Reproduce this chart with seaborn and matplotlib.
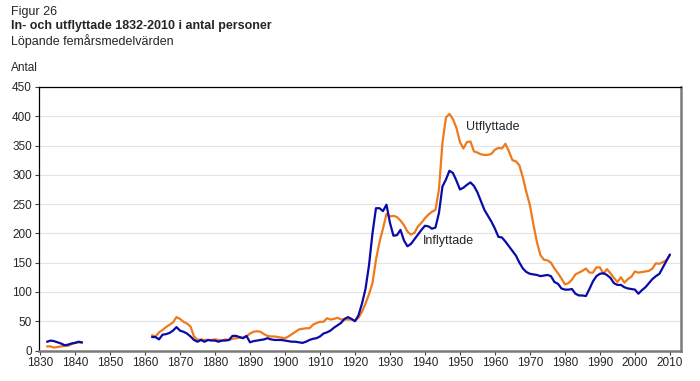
import numpy as np
import pandas as pd
import matplotlib
matplotlib.use("Agg")
import matplotlib.pyplot as plt
import seaborn as sns

# Löpande femårsmedelvärden, antal personer
ar_tidig = list(range(1832, 1843))
in_tidig = [15, 17, 16, 14, 12, 9, 10, 12, 13, 15, 14]
ut_tidig = [7, 7, 5, 6, 7, 8, 8, 11, 13, 14, 13]

ar_sen = list(range(1862, 2011))
in_sen = [23, 23, 19, 27, 28, 30, 34, 40, 34, 32,      # 1862-1871
          29, 24, 18, 15, 18, 15, 18, 17, 17, 15,      # 1872-1881
          17, 17, 18, 25, 25, 23, 21, 25, 14, 16,      # 1882-1891
          17, 18, 19, 21, 19, 18, 18, 18, 17, 16,      # 1892-1901
          15, 15, 14, 13, 15, 18, 20, 21, 24, 29,      # 1902-1911
          31, 34, 39, 43, 47, 54, 57, 54, 50, 60,      # 1912-1921
          80, 105, 145, 200, 243, 243, 238, 249, 218, 196,   # 1922-1931
          197, 206, 188, 178, 182, 190, 198, 206, 213, 212,  # 1932-1941
          208, 210, 235, 280, 292, 307, 303, 290, 275, 278,  # 1942-1951
          283, 287, 281, 270, 255, 240, 230, 220, 208, 194,  # 1952-1961
          193, 186, 178, 170, 162, 150, 140, 134, 131, 130,  # 1962-1971
          129, 127, 128, 129, 127, 117, 114, 106, 104, 104,  # 1972-1981
          105, 97, 94, 94, 93, 105, 118, 127, 131, 132,      # 1982-1991
          129, 124, 115, 112, 112, 108, 106, 105, 104, 97,   # 1992-2001
          103, 108, 115, 122, 127, 131, 142, 153, 164]       # 2002-2010
ut_sen = [26, 24, 31, 35, 40, 44, 48, 57, 54, 49,      # 1862-1871
          46, 41, 24, 18, 19, 18, 18, 18, 19, 18,      # 1872-1881
          17, 19, 18, 20, 21, 22, 22, 24, 29, 32,      # 1882-1891
          33, 32, 28, 25, 24, 24, 23, 22, 21, 24,      # 1892-1901
          28, 32, 36, 37, 38, 38, 44, 47, 49, 49,      # 1902-1911
          55, 53, 54, 56, 53, 53, 53, 53, 51, 56,      # 1912-1921
          66, 80, 96, 115, 155, 185, 208, 233, 229, 230,     # 1922-1931
          228, 222, 214, 203, 198, 201, 212, 218, 226, 232,  # 1932-1941
          237, 240, 275, 355, 398, 404, 395, 380, 356, 345,  # 1942-1951
          356, 357, 340, 338, 335, 334, 334, 336, 343, 346,  # 1952-1961
          345, 353, 340, 325, 323, 316, 295, 270, 248, 215,  # 1962-1971
          185, 163, 155, 154, 150, 140, 132, 123, 113, 115,  # 1972-1981
          121, 130, 133, 136, 140, 133, 133, 142, 142, 131,  # 1982-1991
          139, 132, 124, 117, 125, 116, 122, 126, 135, 133,  # 1992-2001
          134, 135, 136, 140, 149, 148, 151, 154, 163]       # 2002-2010

x_ticks = list(range(1830, 2011, 10))
y_ticks = list(range(0, 451, 50))

BLA = "#0A0AA8"
ORANGE = "#EE7A1C"

delar = []
for namn, ar, inf, utf in [("tidig", ar_tidig, in_tidig, ut_tidig),
                           ("sen", ar_sen, in_sen, ut_sen)]:
    d = pd.DataFrame({"ar": ar, "Inflyttade": inf, "Utflyttade": utf})
    d["del"] = namn
    delar.append(d)
data = pd.concat(delar, ignore_index=True)
lang = data.melt(id_vars=["ar", "del"], var_name="serie", value_name="antal")

sns.set_style("white")
plt.rcParams["font.family"] = ["Liberation Sans", "DejaVu Sans"]

fig = plt.figure(figsize=(7, 3.81), dpi=100)
ax = fig.add_axes([0.0557, 0.080, 0.9173, 0.6917])

sns.lineplot(data=lang, x="ar", y="antal", hue="serie", units="del",
             estimator=None, palette={"Inflyttade": BLA, "Utflyttade": ORANGE},
             hue_order=["Utflyttade", "Inflyttade"],
             linewidth=1.6, legend=False, ax=ax)

ax.set_xlim(1829.7, 2013.2)
ax.set_ylim(0, 450)
ax.set_xticks(x_ticks)
ax.set_yticks(y_ticks)
ax.set_xlabel("")
ax.set_ylabel("")
ax.grid(axis="y", color="#e3e3e3", linewidth=0.8)
ax.set_axisbelow(True)
ax.tick_params(axis="both", labelsize=8.5, length=3, width=0.8,
               color="#404040", pad=2, direction="out")
ax.tick_params(axis="x", bottom=True)
ax.tick_params(axis="y", left=True)
for s in ["left", "top"]:
    ax.spines[s].set_color("black")
    ax.spines[s].set_linewidth(0.9)
for s in ["right", "bottom"]:
    ax.spines[s].set_color("#7a7a7a")
    ax.spines[s].set_linewidth(1.8)

ax.text(1951.7, 382, "Utflyttade", fontsize=9, va="center", ha="left")
ax.text(1939.4, 187, "Inflyttade", fontsize=9, va="center", ha="left")

fig.text(11 / 700, 1 - 12 / 381, "Figur 26", fontsize=9, va="center", ha="left")
fig.text(11 / 700, 1 - 26 / 381, "In- och utflyttade 1832-2010 i antal personer",
         fontsize=9, fontweight="bold", va="center", ha="left")
fig.text(11 / 700, 1 - 41 / 381, "Löpande femårsmedelvärden", fontsize=9,
         va="center", ha="left")
fig.text(11 / 700, 1 - 68 / 381, "Antal", fontsize=8.5, va="center", ha="left")

fig.savefig("out.png", dpi=100)
